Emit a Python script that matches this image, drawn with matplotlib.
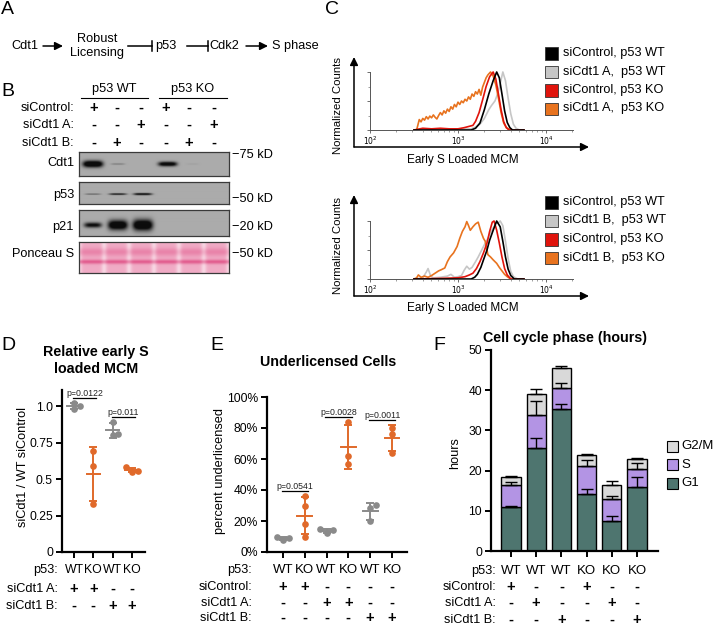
import matplotlib.pyplot as plt
import numpy as np
from matplotlib import transforms
from matplotlib.patches import Rectangle

plt.rcParams["font.family"] = ["Liberation Sans", "DejaVu Sans"]

W, H = 713, 627

# ---------------- panel B: western blot ----------------
blot_rows = ["siControl:", "siCdt1 A:", "siCdt1 B:"]
blot_signs = [
    ["+", "-", "-", "+", "-", "-"],
    ["-", "-", "+", "-", "-", "+"],
    ["-", "+", "-", "-", "+", "-"],
]
blot_groups = ["p53 WT", "p53 KO"]
blot_names = ["Cdt1", "p53", "p21", "Ponceau S"]
blot_markers = ["75 kD", "50 kD", "20 kD", "50 kD"]
cdt1_band = [1.0, 0.22, 0.0, 0.85, 0.05, 0.0]
p53_band = [0.45, 0.7, 0.8, 0.0, 0.0, 0.0]
p21_band = [0.7, 0.95, 1.0, 0.0, 0.0, 0.0]
ponceau_load = [1.0, 1.0, 1.0, 1.0, 1.0, 1.0]

# ---------------- panel C: MCM histograms (log10 MCM, normalized count) ----------------
c_colors = ["#000000", "#c6c6c6", "#e0140c", "#e8731f"]
c_top_labels = ["siControl, p53 WT", "siCdt1 A,  p53 WT", "siControl, p53 KO", "siCdt1 A,  p53 KO"]
c_bot_labels = ["siControl, p53 WT", "siCdt1 B,  p53 WT", "siControl, p53 KO", "siCdt1 B,  p53 KO"]

top_black_x = [2.5, 3.15, 3.2, 3.25, 3.3, 3.35, 3.4, 3.44, 3.47, 3.5, 3.53, 3.56, 3.59, 3.62, 3.75]
top_black_y = [0, 0, 0.03, 0.12, 0.35, 0.62, 0.85, 1.0, 0.9, 0.62, 0.33, 0.13, 0.04, 0, 0]
top_gray_x = [2.5, 2.7, 2.9, 3.15, 3.2, 3.25, 3.3, 3.35, 3.38, 3.42, 3.45, 3.48, 3.51, 3.54, 3.57,
              3.6, 3.63, 3.66, 3.7, 3.75]
top_gray_y = [0, 0.02, 0.01, 0.02, 0.05, 0.1, 0.2, 0.35, 0.42, 0.5, 0.62, 0.8, 1.0, 0.85, 0.55,
              0.28, 0.1, 0.03, 0, 0]
top_red_x = [2.5, 2.6, 2.7, 2.8, 2.9, 3.0, 3.07, 3.12, 3.17, 3.2, 3.24, 3.28, 3.32, 3.36, 3.4,
             3.43, 3.46, 3.49, 3.52, 3.55, 3.58, 3.75]
top_red_y = [0, 0.03, 0.02, 0.03, 0.02, 0.02, 0.04, 0.06, 0.08, 0.15, 0.3, 0.52, 0.75, 0.92, 1.0,
             0.88, 0.62, 0.35, 0.14, 0.04, 0, 0]
top_orange_x = [2.53, 2.56, 2.58, 2.6, 2.62, 2.64, 2.66, 2.68, 2.7, 2.72, 2.74, 2.76, 2.78, 2.8,
                2.82, 2.84, 2.86, 2.88, 2.9, 2.92, 2.94, 2.96, 2.98, 3.0, 3.02, 3.04, 3.06, 3.08,
                3.1, 3.12, 3.14, 3.16, 3.18, 3.2, 3.22, 3.24, 3.26, 3.28, 3.3, 3.32, 3.34, 3.37,
                3.4, 3.43, 3.46, 3.49, 3.52, 3.55, 3.6]
top_orange_y = [0, 0.18, 0.14, 0.2, 0.17, 0.23, 0.19, 0.24, 0.21, 0.26, 0.22, 0.19, 0.25, 0.3,
                0.26, 0.33, 0.29, 0.36, 0.32, 0.4, 0.36, 0.44, 0.4, 0.48, 0.44, 0.5, 0.47, 0.53,
                0.5, 0.57, 0.53, 0.62, 0.58, 0.66, 0.62, 0.7, 0.6, 0.74, 0.82, 0.9, 0.95, 1.0,
                0.93, 0.78, 0.55, 0.3, 0.12, 0.04, 0]

bot_black_x = [2.5, 3.15, 3.19, 3.22, 3.26, 3.29, 3.33, 3.36, 3.4, 3.44, 3.48, 3.51, 3.54, 3.57,
               3.6, 3.64, 3.75]
bot_black_y = [0, 0, 0.03, 0.08, 0.2, 0.33, 0.5, 0.67, 0.84, 1.0, 0.9, 0.65, 0.38, 0.17, 0.06, 0, 0]
bot_gray_x = [2.5, 2.6, 2.64, 2.66, 2.69, 2.72, 2.8, 2.88, 2.92, 2.96, 3.0, 3.04, 3.07, 3.1, 3.13,
              3.16, 3.2, 3.23, 3.27, 3.31, 3.34, 3.37, 3.4, 3.43, 3.46, 3.48, 3.51, 3.54, 3.57,
              3.6, 3.63, 3.68, 3.75]
bot_gray_y = [0, 0.02, 0.12, 0.18, 0.05, 0.02, 0.03, 0.05, 0.08, 0.03, 0.04, 0.06, 0.15, 0.22,
              0.17, 0.2, 0.3, 0.38, 0.5, 0.62, 0.7, 0.8, 0.88, 0.96, 0.97, 1.0, 0.92, 0.65, 0.35,
              0.13, 0.04, 0, 0]
bot_red_x = [2.5, 2.8, 3.0, 3.08, 3.13, 3.17, 3.21, 3.25, 3.29, 3.33, 3.36, 3.39, 3.41, 3.44,
             3.47, 3.5, 3.53, 3.56, 3.6, 3.75]
bot_red_y = [0, 0.01, 0.02, 0.04, 0.07, 0.1, 0.18, 0.3, 0.45, 0.62, 0.82, 0.98, 1.0, 0.84, 0.62,
             0.38, 0.18, 0.07, 0, 0]
bot_orange_x = [2.5, 2.53, 2.55, 2.58, 2.62, 2.66, 2.7, 2.74, 2.78, 2.81, 2.85, 2.88, 2.91, 2.95,
                2.99, 3.02, 3.05, 3.08, 3.1, 3.12, 3.14, 3.17, 3.2, 3.23, 3.26, 3.29, 3.31, 3.34,
                3.37, 3.4, 3.44, 3.47, 3.5, 3.53, 3.56, 3.6]
bot_orange_y = [0, 0.02, 0.07, 0.03, 0.05, 0.03, 0.06, 0.1, 0.14, 0.16, 0.19, 0.3, 0.38, 0.45,
                0.56, 0.7, 0.82, 0.9, 0.99, 0.92, 0.84, 0.9, 0.95, 0.98, 0.82, 0.7, 0.65, 0.42,
                0.38, 0.33, 0.27, 0.2, 0.14, 0.08, 0.04, 0]

# ---------------- panel D ----------------
d_p53 = ["WT", "KO", "WT", "KO"]
d_sicdt1_a = ["+", "+", "-", "-"]
d_sicdt1_b = ["-", "-", "+", "+"]
d_values = [[1.02, 1.0, 0.98], [0.69, 0.59, 0.33], [0.89, 0.81, 0.80], [0.58, 0.555, 0.55]]
d_pvals = [(0, 1, "p=0.0122"), (2, 3, "p=0.011")]

# ---------------- panel E ----------------
e_p53 = ["WT", "KO", "WT", "KO", "WT", "KO"]
e_sicontrol = ["+", "+", "-", "-", "-", "-"]
e_sicdt1_a = ["-", "-", "+", "+", "-", "-"]
e_sicdt1_b = ["-", "-", "-", "-", "+", "+"]
e_values = [[10, 9, 8], [36, 30, 18, 10], [15, 14, 12.5], [84, 62, 57], [30.5, 28.5, 20], [80, 76, 64]]
e_pvals = [(0, 1, "p=0.0541"), (2, 3, "p=0.0028"), (4, 5, "p=0.0011")]

# ---------------- panel F ----------------
f_p53 = ["WT", "WT", "WT", "KO", "KO", "KO"]
f_sicontrol = ["+", "-", "-", "+", "-", "-"]
f_sicdt1_a = ["-", "+", "-", "-", "+", "-"]
f_sicdt1_b = ["-", "-", "+", "-", "-", "+"]
f_g1 = [10.9, 25.5, 35.2, 14.1, 7.5, 15.8]
f_s = [5.5, 8.3, 5.4, 7.1, 5.4, 4.6]
f_g2m = [2.1, 5.2, 5.0, 2.7, 3.4, 2.4]
f_g1_err = [0.4, 2.5, 1.3, 1.2, 1.2, 2.5]
f_s_err = [0.8, 3.4, 1.3, 1.4, 0.9, 1.6]
f_g2m_err = [0.2, 1.3, 0.5, 0.2, 1.1, 0.3]
f_phases = ["G2/M", "S", "G1"]
f_colors = {"G1": "#4e756f", "S": "#b394e4", "G2/M": "#d9d9d9"}

GRAY = "#8a8a8a"
ORANGE = "#e0692a"


def px_axes(fig, x0, y0, x1, y1):
    return fig.add_axes([x0 / W, 1 - y1 / H, (x1 - x0) / W, (y1 - y0) / H])


def swarm(vals, dx, th):
    order = np.argsort(vals)
    offs = np.zeros(len(vals))
    placed = []
    for k in order:
        v = vals[k]
        for off in [0, dx, -dx, 2 * dx, -2 * dx]:
            if all(abs(v - pv) >= th or abs(off - po) >= dx * 0.9 for pv, po in placed):
                break
        offs[k] = off
        placed.append((v, off))
    return offs


def dot_plot(ax, groups, dx, th, pad, pvals):
    tops = []
    for i, vals in enumerate(groups):
        col = GRAY if i % 2 == 0 else ORANGE
        vals = np.asarray(vals, float)
        m, sd = vals.mean(), vals.std(ddof=1)
        ax.plot(i + swarm(vals, dx, th), vals, "o", color=col, ms=4.8, mec="none",
                zorder=3, clip_on=False)
        ax.plot([i - 0.34, i + 0.34], [m, m], color=col, lw=1.4, zorder=4)
        ax.errorbar(i, m, yerr=sd, fmt="none", ecolor=col, capsize=3, elinewidth=1.4,
                    capthick=1.4, zorder=4)
        tops.append(max(vals.max(), m + sd))
    for i, j, txt in pvals:
        y = max(tops[i], tops[j]) + pad
        c = (i + j) / 2
        ax.plot([c - 0.55, c + 0.65], [y, y], color="black", lw=0.9, clip_on=False)
        ax.text(c + 0.05, y, txt, ha="center", va="bottom", fontsize=6.3, color="#222222")


def style_axes(ax):
    for s in ["top", "right"]:
        ax.spines[s].set_visible(False)
    for s in ["left", "bottom"]:
        ax.spines[s].set_linewidth(1.6)
    ax.tick_params(direction="out", length=4.5, width=1.4, labelsize=8.7, pad=2)


def table(fig, ax, rows, label_x, ys, fontsize=9.2, cat_size=9.5):
    tr = transforms.blended_transform_factory(ax.transData, fig.transFigure)
    for (label, vals), y in zip(rows, ys):
        fig.text(label_x / W, 1 - y / H, label, ha="right", va="center", fontsize=fontsize)
        for i, v in enumerate(vals):
            bold = v in "+-"
            ax.text(i, 1 - y / H, v, transform=tr, ha="center", va="center",
                    fontsize=10.5 if bold else cat_size,
                    fontweight="bold" if bold else "normal")


def blot_image(levels, yc, thick, bg=0.67, nx=300, ny=60):
    x = np.linspace(0, 6, nx)
    y = np.linspace(0, 1, ny)[:, None]
    dark = np.zeros((ny, nx))
    for i, lv in enumerate(levels):
        if lv <= 0:
            continue
        half = 0.24 + 0.16 * lv
        gx = np.exp(-np.abs((x - (i + 0.55)) / half) ** 4)
        sy = thick * (0.25 + lv ** 3)
        gy = np.exp(-((y - yc) / sy) ** 2)
        dark += lv * gx * gy
    dark = np.clip(dark * 1.5, 0, 1)
    return bg * (1 - 0.93 * dark)


def ponceau_image(load, nx=300, ny=60):
    x = np.linspace(0, 6, nx)
    y = np.linspace(0, 1, ny)[:, None]
    m = 0.42 + 0.2 * np.exp(-((y - 0.68) / 0.13) ** 2) + 0.4 * np.exp(-((y - 0.36) / 0.07) ** 2)
    m = m * np.ones((ny, nx))
    for k in range(7):
        m -= 0.22 * np.exp(-((x - k) / 0.11) ** 2)
    m *= np.repeat(load, nx // 6)[None, :nx]
    m = np.clip(m, 0, 1)
    deep = np.array([0.86, 0.22, 0.46])
    return 1 - m[..., None] * (1 - deep)


fig = plt.figure(figsize=(W / 100, H / 100), dpi=100)

# ---------------- B: blots ----------------
blot_boxes = [(152, 176), (182, 204), (210, 236), (242, 273)]
blot_imgs = [
    blot_image(cdt1_band, 0.5, 0.11),
    blot_image(p53_band, 0.45, 0.06),
    blot_image(p21_band, 0.42, 0.17),
    ponceau_image(ponceau_load),
]
for (y0, y1), img in zip(blot_boxes, blot_imgs):
    bax = px_axes(fig, 79, y0, 229, y1)
    if img.ndim == 2:
        bax.imshow(img, cmap="gray", vmin=0, vmax=1, origin="lower", extent=[0, 6, 0, 1],
                   aspect="auto", interpolation="bilinear")
    else:
        bax.imshow(img, origin="lower", extent=[0, 6, 0, 1], aspect="auto",
                   interpolation="bilinear")
    bax.set_xticks([])
    bax.set_yticks([])
    for s in bax.spines.values():
        s.set_color("#3a3a3a")
        s.set_linewidth(0.9)

# ---------------- C: histograms ----------------
top_curves = [(top_black_x, top_black_y), (top_gray_x, top_gray_y),
              (top_red_x, top_red_y), (top_orange_x, top_orange_y)]
bot_curves = [(bot_black_x, bot_black_y), (bot_gray_x, bot_gray_y),
              (bot_red_x, bot_red_y), (bot_orange_x, bot_orange_y)]
for y0, y1, curves in [(72, 130, top_curves), (221, 279, bot_curves)]:
    hax = px_axes(fig, 370, y0, 573, y1)
    for k in [1, 3, 2, 0]:
        lx, ly = curves[k]
        hax.plot(np.power(10.0, lx), ly, color=c_colors[k], lw=1.2, clip_on=False)
    hax.set_xscale("log")
    hax.set_xlim(100, 20300)
    hax.set_ylim(0, 1.0)
    for s in ["top", "right"]:
        hax.spines[s].set_visible(False)
    for s in ["left", "bottom"]:
        hax.spines[s].set_color("#555555")
        hax.spines[s].set_linewidth(0.7)
    hax.set_xticks([1e2, 1e3, 1e4], labels=[r"$10^2$", r"$10^3$", r"$10^4$"])
    hax.set_yticks([0, 0.5, 1.0], labels=[])
    hax.set_yticks([0.25, 0.75], minor=True)
    hax.tick_params(which="major", direction="out", length=2.5, width=0.6, colors="#555555",
                    labelsize=5.5, labelcolor="black", pad=1)
    hax.tick_params(which="minor", direction="out", length=1.5, width=0.5, colors="#777777")
    hax.tick_params(axis="x", which="minor", labelbottom=False)

# ---------------- D ----------------
axd = px_axes(fig, 62, 390, 145, 552)
dot_plot(axd, d_values, 0.3, 0.04, 0.035, d_pvals)
axd.set_xlim(-0.62, 3.67)
axd.set_ylim(0, 1.11)
axd.set_yticks([0, 0.25, 0.5, 0.75, 1.0], labels=["0", "0.25", "0.5", "0.75", "1.0"])
axd.set_xticks(range(4), labels=[])
style_axes(axd)
table(fig, axd, [("p53:", d_p53), ("siCdt1 A:", d_sicdt1_a), ("siCdt1 B:", d_sicdt1_b)],
      58, [570, 589, 606], cat_size=8.8)

# ---------------- E ----------------
axe = px_axes(fig, 267, 397, 407, 552)
dot_plot(axe, e_values, 0.28, 3.8, 3.2, e_pvals)
axe.set_xlim(-0.73, 5.69)
axe.set_ylim(0, 100)
axe.set_yticks(range(0, 101, 20), labels=[f"{v}%" for v in range(0, 101, 20)])
axe.set_xticks(range(6), labels=[])
style_axes(axe)
table(fig, axe, [("p53:", e_p53), ("siControl:", e_sicontrol), ("siCdt1 A:", e_sicdt1_a),
                 ("siCdt1 B:", e_sicdt1_b)], 252, [570, 587, 603, 618])

# ---------------- F ----------------
axf = px_axes(fig, 491, 350, 658, 551)
xs = np.arange(6)
g1 = np.array(f_g1)
s_ = np.array(f_s)
g2 = np.array(f_g2m)
axf.bar(xs, g1, width=0.76, color=f_colors["G1"], edgecolor="black", lw=1.0, zorder=2)
axf.bar(xs, s_, bottom=g1, width=0.76, color=f_colors["S"], edgecolor="black", lw=1.0, zorder=2)
axf.bar(xs, g2, bottom=g1 + s_, width=0.76, color=f_colors["G2/M"], edgecolor="black", lw=1.0,
        zorder=2)
zeros = np.zeros(6)
for top, err in [(g1, f_g1_err), (g1 + s_, f_s_err), (g1 + s_ + g2, f_g2m_err)]:
    axf.errorbar(xs, top, yerr=[zeros, err], fmt="none", ecolor="black", capsize=4,
                 elinewidth=1.0, capthick=1.0, zorder=3)
axf.set_xlim(-0.79, 5.83)
axf.set_ylim(0, 50)
axf.set_yticks(range(0, 51, 10))
axf.set_xticks(range(6), labels=[])
style_axes(axf)
table(fig, axf, [("p53:", f_p53), ("siControl:", f_sicontrol), ("siCdt1 A:", f_sicdt1_a),
                 ("siCdt1 B:", f_sicdt1_b)], 496, [571, 587, 603, 620])

# ---------------- overlay: text, diagram, arrows ----------------
ov = fig.add_axes([0, 0, 1, 1], zorder=10)
ov.set_xlim(0, W)
ov.set_ylim(H, 0)
ov.axis("off")
ov.patch.set_alpha(0)

for letter, (x, y) in zip("ABCDEF", [(1, 10), (1, 92), (325, 10), (1, 345), (210, 345), (433, 345)]):
    ov.text(x, y, letter, fontsize=14, ha="left", va="center")

# A: pathway diagram
arrow_kw = dict(arrowstyle="-|>", lw=1.1, color="black", mutation_scale=12, shrinkA=0, shrinkB=0)
ov.text(25, 46, "Cdt1", ha="center", va="center", fontsize=9.2)
ov.annotate("", xy=(63, 46), xytext=(43, 46), arrowprops=arrow_kw)
ov.text(97, 38.5, "Robust", ha="center", va="center", fontsize=9.2)
ov.text(97, 53, "Licensing", ha="center", va="center", fontsize=9.2)
ov.plot([128, 152], [46, 46], color="black", lw=1.1)
ov.plot([152, 152], [41, 51], color="black", lw=1.1)
ov.text(166, 46, "p53", ha="center", va="center", fontsize=9.2)
ov.plot([187, 208], [46, 46], color="black", lw=1.1)
ov.plot([208, 208], [41, 51], color="black", lw=1.1)
ov.text(224, 46, "Cdk2", ha="center", va="center", fontsize=9.2)
ov.annotate("", xy=(268, 46), xytext=(246, 46), arrowprops=arrow_kw)
ov.text(295, 46, "S phase", ha="center", va="center", fontsize=9.2)

# B: labels
lane_px = [94, 117, 141, 166, 189, 214]
for name, (x0, x1) in zip(blot_groups, [(81, 148), (159, 227)]):
    ov.text((x0 + x1) / 2, 89, name, ha="center", va="center", fontsize=9.2)
    ov.plot([x0, x1], [98, 98], color="black", lw=0.8)
for label, signs, y in zip(blot_rows, blot_signs, [108, 125, 143]):
    ov.text(74, y, label, ha="right", va="center", fontsize=9.2)
    for x, sgn in zip(lane_px, signs):
        ov.text(x, y, sgn, ha="center", va="center", fontsize=10.5, fontweight="bold")
for name, marker, y_name, y_mark in zip(blot_names, blot_markers, [163, 195, 227, 254],
                                        [155, 199, 227, 254]):
    ov.text(74, y_name, name, ha="right", va="center", fontsize=9.2)
    ov.text(232, y_mark, "\u2212" + marker, ha="left", va="center", fontsize=9.2)

# C: axes arrows, labels, legends
for y_base, y_top, y_lab, y_xl, labels, y_leg in [
    (147, 57, 105, 160, c_top_labels, 53),
    (296, 195, 245, 308, c_bot_labels, 202),
]:
    ov.annotate("", xy=(354, y_top), xytext=(354, y_base), arrowprops=arrow_kw)
    ov.annotate("", xy=(589, y_base), xytext=(354, y_base), arrowprops=arrow_kw)
    ov.text(338, y_lab, "Normalized Counts", rotation=90, ha="center", va="center", fontsize=8.2)
    ov.text(463, y_xl, "Early S Loaded MCM", ha="center", va="center", fontsize=8.5)
    for k, (lab, col) in enumerate(zip(labels, c_colors)):
        yy = y_leg + k * 18.5
        ov.add_patch(Rectangle((545, yy - 6), 12.5, 12.5, facecolor=col, edgecolor="#333333",
                               lw=0.6))
        ov.text(563, yy, lab, ha="left", va="center", fontsize=9.2)

# D/E/F titles and axis labels
ov.text(96, 352, "Relative early S", ha="center", va="center", fontsize=10.3, fontweight="bold")
ov.text(96, 369, "loaded MCM", ha="center", va="center", fontsize=10.3, fontweight="bold")
ov.text(328, 362, "Underlicensed Cells", ha="center", va="center", fontsize=10.3,
        fontweight="bold")
ov.text(565, 338, "Cell cycle phase (hours)", ha="center", va="center", fontsize=10.3,
        fontweight="bold")
ov.text(23, 467, "siCdt1 / WT siControl", rotation=90, ha="center", va="center", fontsize=9.2)
ov.text(220, 471, "percent underlicensed", rotation=90, ha="center", va="center", fontsize=9.2)
ov.text(455, 453, "hours", rotation=90, ha="center", va="center", fontsize=9.2)

# F legend
for k, ph in enumerate(f_phases):
    yy = 446 + k * 18.5
    ov.add_patch(Rectangle((667, yy - 5.5), 11, 11, facecolor=f_colors[ph], edgecolor="black",
                           lw=0.8))
    ov.text(681, yy, ph, ha="left", va="center", fontsize=9.5)

fig.savefig("out.png", dpi=100)
